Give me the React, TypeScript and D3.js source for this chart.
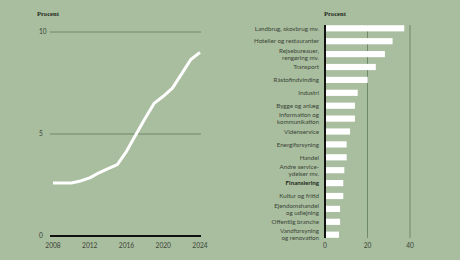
import React, { useEffect, useRef } from "react";
import * as d3 from "d3";

const years = [2008, 2009, 2010, 2011, 2012, 2013, 2014, 2015, 2016, 2017, 2018, 2019, 2020, 2021, 2022, 2023, 2024];
const shares = [2.6, 2.6, 2.6, 2.7, 2.85, 3.1, 3.3, 3.5, 4.15, 4.95, 5.75, 6.5, 6.85, 7.25, 7.95, 8.65, 9.0];
const yearTicks = [2008, 2012, 2016, 2020, 2024];
const shareTicks = [0, 5, 10];

const branches = [
  "Landbrug, skovbrug mv.",
  "Hoteller og restauranter",
  "Rejsebureauer,\nrengøring mv.",
  "Transport",
  "Råstofindvinding",
  "Industri",
  "Bygge og anlæg",
  "Information og\nkommunikation",
  "Videnservice",
  "Energiforsyning",
  "Handel",
  "Andre service-\nydelser mv.",
  "Finansiering",
  "Kultur og fritid",
  "Ejendomshandel\nog udlejning",
  "Offentlig branche",
  "Vandforsyning\nog renovation",
];
const branchValues = [37.3, 31.8, 28.2, 23.9, 20.1, 15.4, 14.1, 14.1, 11.8, 10.2, 10.2, 9.1, 8.6, 8.6, 7.1, 7.1, 6.6];
const highlight = "Finansiering";
const branchTicks = [0, 20, 40];

const BG = "#a9bd9f";
const GRID = "#6e8a66";
const TEXT = "#3a4536";
const SANS = "Lato, 'Noto Sans', sans-serif";
const SERIF = "'Liberation Serif', 'DejaVu Serif', serif";

export default function App() {
  const ref = useRef<SVGSVGElement>(null);

  useEffect(() => {
    const svg = d3.select(ref.current);
    svg.selectAll("*").remove();

    svg.append("rect").attr("width", 460).attr("height", 260).attr("fill", BG);

    // left: line chart
    const x = d3.scaleLinear().domain([2008, 2024]).range([53, 200]);
    const y = d3.scaleLinear().domain([0, 10]).range([236, 32]);

    const left = svg.append("g");
    left
      .append("text")
      .attr("x", 37)
      .attr("y", 16)
      .attr("font-family", SERIF)
      .attr("font-weight", "bold")
      .attr("font-size", 6.6)
      .attr("fill", "#1e2a1c")
      .text("Procent");

    shareTicks.forEach((t) => {
      left
        .append("line")
        .attr("x1", 50)
        .attr("x2", 201)
        .attr("y1", y(t))
        .attr("y2", y(t))
        .attr("stroke", t === 0 ? "#111" : GRID)
        .attr("stroke-width", t === 0 ? 2 : 1);
      left
        .append("text")
        .attr("x", 39)
        .attr("y", y(t) + 2.3)
        .attr("font-family", SANS)
        .attr("font-size", 6.6)
        .attr("fill", TEXT)
        .text(t);
    });

    yearTicks.forEach((t) => {
      left
        .append("text")
        .attr("x", x(t))
        .attr("y", 248)
        .attr("text-anchor", "middle")
        .attr("font-family", SANS)
        .attr("font-size", 6.6)
        .attr("fill", TEXT)
        .text(t);
    });

    const line = d3
      .line<number>()
      .x((_, i) => x(years[i]))
      .y((d) => y(d));
    left
      .append("path")
      .attr("d", line(shares))
      .attr("fill", "none")
      .attr("stroke", "#fff")
      .attr("stroke-width", 3)
      .attr("stroke-linejoin", "round");

    // right: bar chart
    const bx = d3.scaleLinear().domain([0, 40]).range([325, 410]);
    const by = d3
      .scaleBand()
      .domain(branches)
      .range([21.85, 241.15])
      .paddingInner(0.52)
      .paddingOuter(0.26);

    const right = svg.append("g");
    right
      .append("text")
      .attr("x", 324)
      .attr("y", 16)
      .attr("font-family", SERIF)
      .attr("font-weight", "bold")
      .attr("font-size", 6.6)
      .attr("fill", "#1e2a1c")
      .text("Procent");

    branchTicks.slice(1).forEach((t) => {
      right
        .append("line")
        .attr("x1", bx(t))
        .attr("x2", bx(t))
        .attr("y1", 25)
        .attr("y2", 238)
        .attr("stroke", GRID)
        .attr("stroke-width", 1);
    });
    branchTicks.forEach((t) => {
      right
        .append("text")
        .attr("x", bx(t))
        .attr("y", 248)
        .attr("text-anchor", "middle")
        .attr("font-family", SANS)
        .attr("font-size", 6.6)
        .attr("fill", TEXT)
        .text(t);
    });

    right
      .selectAll("rect.bar")
      .data(branches)
      .enter()
      .append("rect")
      .attr("class", "bar")
      .attr("x", bx(0))
      .attr("y", (d) => by(d)!)
      .attr("width", (d, i) => bx(branchValues[i]) - bx(0))
      .attr("height", by.bandwidth())
      .attr("fill", "#fff");

    right
      .append("line")
      .attr("x1", bx(0))
      .attr("x2", bx(0))
      .attr("y1", 25)
      .attr("y2", 238)
      .attr("stroke", "#111")
      .attr("stroke-width", 2);

    branches.forEach((b) => {
      const lines = b.split("\n");
      const cy = by(b)! + by.bandwidth() / 2;
      const t = right
        .append("text")
        .attr("x", 319)
        .attr("text-anchor", "end")
        .attr("font-family", SANS)
        .attr("font-size", 6.2)
        .attr("font-weight", b === highlight ? "bold" : "normal")
        .attr("fill", b === highlight ? "#1e2a1c" : TEXT);
      lines.forEach((l, i) => {
        t.append("tspan")
          .attr("x", 319)
          .attr("y", cy + 2.2 + (i - (lines.length - 1) / 2) * 7)
          .text(l);
      });
    });
  }, []);

  return (
    <div style={{ position: "absolute", left: 0, top: 0 }}>
      <svg ref={ref} width={460} height={260} style={{ display: "block" }} />
    </div>
  );
}
